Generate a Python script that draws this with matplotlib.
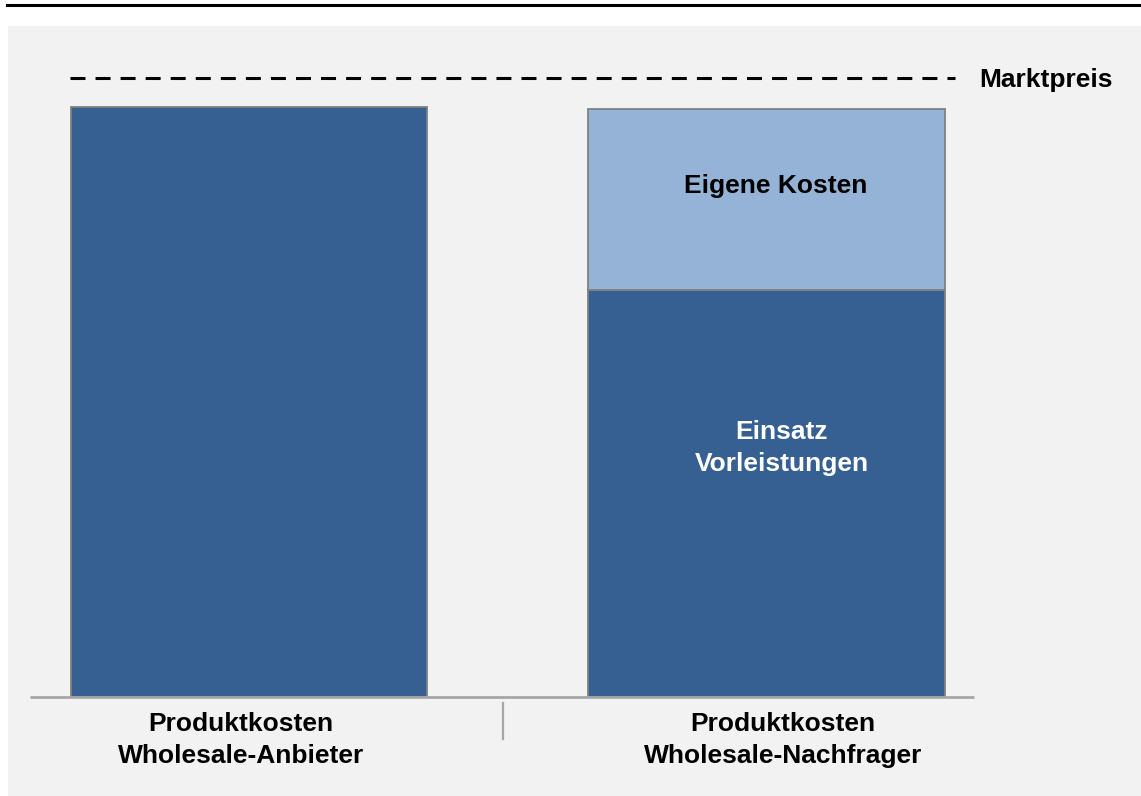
import matplotlib
matplotlib.use("Agg")
import matplotlib.pyplot as plt
from matplotlib.lines import Line2D
import numpy as np

plt.rcParams["font.family"] = ["Liberation Sans", "DejaVu Sans"]
plt.rcParams["font.weight"] = "bold"

# data
categories = ["Produktkosten\nWholesale-Anbieter", "Produktkosten\nWholesale-Nachfrager"]
vorleistungen = [100.0, 69.0]      # dark segment
eigene_kosten = [0.0, 30.7]        # light segment (only the Nachfrager bar)
marktpreis = 104.9
segment_labels = ["Einsatz\nVorleistungen", "Eigene Kosten"]

dark = "#366092"
light = "#95b3d7"
edge = "#808080"
panel = "#f2f2f2"

fig = plt.figure(figsize=(11.41, 7.96), dpi=100)
fig.patch.set_facecolor("white")
ax = fig.add_axes([8 / 1141, 0, 1133 / 1141, 770 / 796])
ax.set_facecolor(panel)
for s in ax.spines.values():
    s.set_visible(False)
ax.set_xticks([])
ax.set_yticks([])

x = np.arange(len(categories))
width = 0.688

ax.bar(x, vorleistungen, width, color=dark, edgecolor=edge, linewidth=1.3, zorder=2)
mask = np.array(eigene_kosten) > 0
ax.bar(x[mask], np.array(eigene_kosten)[mask], width, bottom=np.array(vorleistungen)[mask],
       color=light, edgecolor=edge, linewidth=1.3, zorder=2)

# market price line
ax.plot([-0.3467, 1.364], [marktpreis, marktpreis], color="black", lw=2.2,
        dashes=(4.9, 3.3), zorder=3)
ax.text(1.4106, marktpreis - 0.3, "Marktpreis", ha="left", va="center", fontsize=19,
        fontweight="bold")

# baseline and separator
ax.plot([-0.4232, 1.401], [0, 0], color="#a6a6a6", lw=2, zorder=3, solid_capstyle="butt")
ax.plot([0.4908, 0.4908], [-1.0, -7.1], color="#a6a6a6", lw=1.6, zorder=3)

# category labels
ax.text(-0.0155, -7.3, categories[0], ha="center", va="center", fontsize=19,
        fontweight="bold", linespacing=1.38)
ax.text(1.0319, -7.3, categories[1], ha="center", va="center", fontsize=19,
        fontweight="bold", linespacing=1.38)

# segment labels
ax.text(1.029, 42.2, segment_labels[0], ha="center", va="center", fontsize=19,
        fontweight="bold", color="white", linespacing=1.38)
ax.text(1.017, 86.6, segment_labels[1], ha="center", va="center", fontsize=19,
        fontweight="bold", color="black")

ax.set_xlim(-0.4657, 1.7237)
ax.set_ylim(-16.78, 113.7)

# black rule on top
fig.add_artist(Line2D([7 / 1141, 1.0], [1 - 5 / 796, 1 - 5 / 796], color="black", lw=2.2))

fig.savefig("out.png", dpi=100)
